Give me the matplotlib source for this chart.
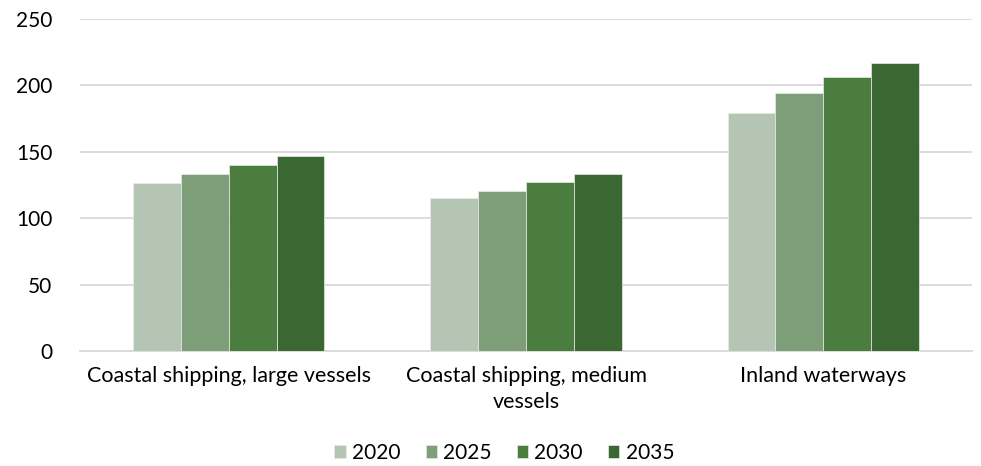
import numpy as np
import matplotlib
matplotlib.use("Agg")
import matplotlib.pyplot as plt

categories = ["Coastal shipping, large vessels", "Coastal shipping, medium\nvessels",
              "Inland waterways"]
years = ["2020", "2025", "2030", "2035"]
v2020 = [126.5, 115, 179.5]
v2025 = [133, 120.5, 194]
v2030 = [140, 127, 206.5]
v2035 = [147, 133, 217]
colors = ["#b5c5b3", "#7e9e7a", "#4a7d3f", "#3b6832"]

plt.rcParams["font.family"] = ["Lato", "DejaVu Sans"]

fig = plt.figure(figsize=(9.81, 4.66), dpi=100)
ax = fig.add_axes([80 / 981, 1 - 351 / 466, 892 / 981, 332 / 466])

series = [v2020, v2025, v2030, v2035]
x = np.arange(len(categories))
w = 0.161
for i, (vals, yr) in enumerate(zip(series, years)):
    ax.bar(x + (i - 1.5) * w, vals, w, color=colors[i], label=yr,
           edgecolor="#e8ede6", linewidth=0.5, zorder=3)

ax.set_xlim(-0.5, 2.5)
ax.set_ylim(0, 250)
ax.set_yticks(range(0, 251, 50))
ax.set_xticks(x)
ax.set_xticklabels(categories, fontsize=15.5, color="#000000", linespacing=1.35)
ax.tick_params(axis="y", labelsize=15, colors="#000000", length=0, pad=20)
ax.tick_params(axis="x", length=0, pad=11)
ax.grid(axis="y", color="#d9d9d9", linewidth=1.3, zorder=0)
for s in ["top", "right", "left"]:
    ax.spines[s].set_visible(False)
ax.spines["bottom"].set_color("#d9d9d9")
ax.spines["bottom"].set_linewidth(1.3)

fig.legend(loc="center", bbox_to_anchor=(0.514, 1 - 453 / 466), ncol=4,
           frameon=False, fontsize=15, handlelength=0.55, handleheight=0.55,
           handletextpad=0.3, columnspacing=1.2)

fig.savefig("out.png", dpi=100)
